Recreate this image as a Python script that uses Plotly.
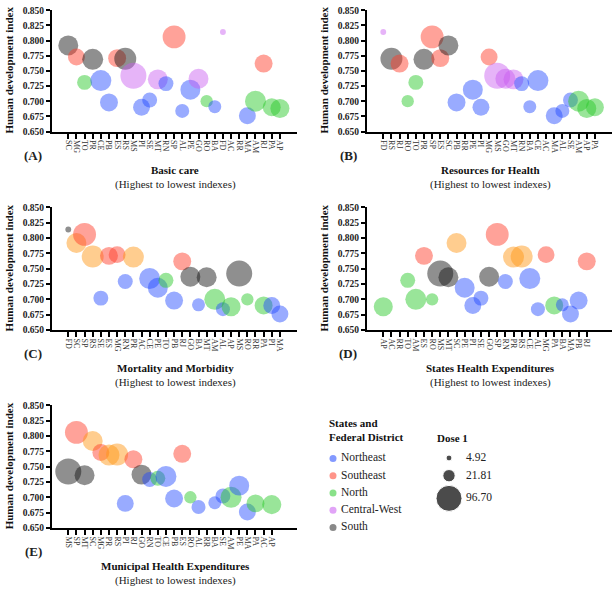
import plotly.graph_objects as go

# state -> region, HDI and first-dose coverage
STATES = ["SC", "MG", "TO", "PR", "CE", "PB", "ES", "RS", "MS", "PI", "SE", "MT", "RN",
          "SP", "AL", "PE", "GO", "RO", "BA", "FD", "MA", "AM", "RJ", "PA", "AP"]
REGION = ["South", "Southeast", "North", "South", "Northeast", "Northeast", "Southeast",
          "South", "Central-West", "Northeast", "Northeast", "Central-West", "Northeast",
          "Southeast", "Northeast", "Northeast", "Central-West", "North", "Northeast",
          "Central-West", "Northeast", "North", "Southeast", "North", "North"]
HDI = [0.792, 0.773, 0.731, 0.769, 0.734, 0.698, 0.771, 0.770, 0.742, 0.690, 0.702, 0.736,
       0.729, 0.806, 0.684, 0.719, 0.737, 0.700, 0.691, 0.814, 0.676, 0.700, 0.762, 0.690,
       0.688]
DOSE1 = [57.0, 41.0, 32.0, 63.0, 63.0, 46.0, 46.0, 69.0, 96.70, 41.0, 32.0, 57.0, 32.0,
         75.0, 28.0, 57.0, 57.0, 21.81, 24.0, 4.92, 41.0, 63.0, 46.0, 46.0, 52.0]

# x-axis order of each panel (highest to lowest index)
ORDER_A = ["SC", "MG", "TO", "PR", "CE", "PB", "ES", "RS", "MS", "PI", "SE", "MT", "RN", "SP",
           "AL", "PE", "GO", "RO", "BA", "FD", "AC", "RR", "MA", "AM", "RJ", "PA", "AP"]
ORDER_B = ["FD", "RS", "RJ", "RO", "TO", "PR", "SP", "ES", "SC", "PB", "RR", "PE", "PI", "MG",
           "MS", "GO", "MT", "RN", "BA", "CE", "AC", "MA", "AL", "SE", "AM", "AP", "PA"]
ORDER_C = ["FD", "SC", "SP", "RS", "SE", "ES", "MG", "RN", "PR", "AC", "CE", "PE", "TO", "PB",
           "RJ", "GO", "BA", "MT", "AM", "AL", "AP", "MS", "RO", "RR", "PA", "PI", "MA"]
ORDER_D = ["AP", "AC", "RR", "TO", "AM", "ES", "RO", "MS", "MT", "SC", "PE", "PI", "SE", "GO",
           "SP", "RN", "PR", "RS", "CE", "AL", "MG", "PA", "BA", "MA", "PB", "RJ"]
ORDER_E = ["MS", "SP", "MT", "SC", "MG", "PR", "RS", "PI", "RJ", "GO", "RN", "TO", "CE", "PB",
           "ES", "RO", "AL", "RR", "BA", "SE", "AM", "PE", "MA", "PA", "AC", "AP"]

REGIONS = ["Northeast", "Southeast", "North", "Central-West", "South"]
LEGEND_DOSES = [4.92, 21.81, 96.70]
HDI_TICKS = [0.650, 0.675, 0.700, 0.725, 0.750, 0.775, 0.800, 0.825, 0.850]

# panels A/B and C/D/E use different colour sets in the original
COLORS_AB = {"Northeast": "rgba(30,70,255,0.65)", "Southeast": "rgba(255,60,40,0.68)",
             "North": "rgba(40,200,40,0.68)", "Central-West": "rgba(200,90,240,0.65)",
             "South": "rgba(20,20,20,0.68)"}
COLORS_CDE = dict(COLORS_AB, **{"South": "rgba(255,150,20,0.68)",
                                "Central-West": "rgba(20,20,20,0.68)"})
LEGEND_COLORS = ["rgba(30,70,255,0.55)", "rgba(255,60,40,0.55)", "rgba(40,200,40,0.55)",
                 "rgba(200,90,240,0.55)", "rgba(20,20,20,0.5)"]

SERIF = "Liberation Serif"
W, H = 612, 591
# plotly area mode: diameter = sqrt(2 * v / sizeref)
SIZEREF = 2 * 96.70 / 26 ** 2


def px(x):
    return x / W


def py(y):
    return 1 - y / H


panels = [
    ("A", "Basic care", ORDER_A, COLORS_AB, (52, 297), (5.7, 129.5)),
    ("B", "Resources for Health", ORDER_B, COLORS_AB, (367, 612), (5.7, 129.5)),
    ("C", "Mortality and Morbidity", ORDER_C, COLORS_CDE, (52, 297), (206, 331)),
    ("D", "States Health Expenditures", ORDER_D, COLORS_CDE, (367, 612), (206, 331)),
    ("E", "Municipal Health Expenditures", ORDER_E, COLORS_CDE, (52, 297), (407, 532)),
]

lookup = {s: (r, h, d) for s, r, h, d in zip(STATES, REGION, HDI, DOSE1)}

fig = go.Figure()
annotations = []

for i, (letter, title, order, colors, (x0, x1), (y0, y1)) in enumerate(panels, start=1):
    pts = [s for s in order if s in lookup]
    fig.add_trace(go.Scatter(
        x=pts,
        y=[lookup[s][1] for s in pts],
        mode="markers",
        marker=dict(size=[lookup[s][2] for s in pts], sizemode="area", sizeref=SIZEREF,
                    color=[colors[lookup[s][0]] for s in pts], line=dict(width=0)),
        xaxis=f"x{i}", yaxis=f"y{i}", showlegend=False, cliponaxis=False,
    ))
    fig.layout[f"xaxis{i}"] = dict(
        domain=[px(x0), px(x1)], anchor=f"y{i}", type="category",
        categoryorder="array", categoryarray=order, tickvals=order, ticktext=order,
        range=[-2.0, 28.1], showline=True, linewidth=2, linecolor="black",
        ticks="outside", ticklen=5, tickwidth=1.5, tickcolor="black", tickangle=90,
        tickfont=dict(family=SERIF, size=8, color="#333"), showgrid=False, zeroline=False,
    )
    fig.layout[f"yaxis{i}"] = dict(
        domain=[py(y1), py(y0)], anchor=f"x{i}", range=[0.65, 0.851],
        tickvals=HDI_TICKS, tickformat=".3f", showline=True, linewidth=2, linecolor="black",
        ticks="outside", ticklen=4, tickwidth=1.5, tickcolor="black",
        tickfont=dict(family=SERIF, size=9.5, color="#222", weight="bold"),
        showgrid=False, zeroline=False,
    )
    annotations += [
        dict(text="Human development index", x=px(x0 - 43), y=py((y0 + y1) / 2),
             textangle=-90, font=dict(family=SERIF, size=11, color="#111", weight="bold")),
        dict(text=f"({letter})", x=px(x0 - 19), y=py(y1 + 24),
             font=dict(family=SERIF, size=13, color="#222", weight="bold")),
        dict(text=title, x=px(x0 + 123), y=py(y1 + 39),
             font=dict(family=SERIF, size=11, color="#111", weight="bold")),
        dict(text="(Highest to lowest indexes)", x=px(x0 + 123), y=py(y1 + 53.5),
             font=dict(family=SERIF, size=11, color="#222")),
    ]

# legend drawn on a hidden pixel-scaled axis
reg_y = [461.5 + 17.5 * k for k in range(len(REGIONS))]
dose_y = [461, 479, 502]
fig.add_trace(go.Scatter(
    x=[333] * len(REGIONS), y=reg_y, mode="markers", xaxis="x6", yaxis="y6",
    marker=dict(size=7, color=LEGEND_COLORS), showlegend=False,
))
fig.add_trace(go.Scatter(
    x=[341] * len(REGIONS), y=reg_y, mode="text", text=REGIONS, xaxis="x6", yaxis="y6",
    textposition="middle right", textfont=dict(family=SERIF, size=11.5, color="#222"),
    showlegend=False,
))
fig.add_trace(go.Scatter(
    x=[449] * 3, y=dose_y, mode="markers", xaxis="x6", yaxis="y6", showlegend=False,
    marker=dict(size=LEGEND_DOSES, sizemode="area", sizeref=SIZEREF, color="black"),
))
fig.add_trace(go.Scatter(
    x=[466] * 3, y=dose_y, mode="text", text=[f"{d:.2f}" for d in LEGEND_DOSES],
    textposition="middle right", textfont=dict(family=SERIF, size=11.5, color="#222"),
    xaxis="x6", yaxis="y6", showlegend=False,
))
fig.layout["xaxis6"] = dict(domain=[0, 1], range=[0, W], visible=False, fixedrange=True)
fig.layout["yaxis6"] = dict(domain=[0, 1], range=[H, 0], visible=False, fixedrange=True)

annotations += [
    dict(text="States and<br>Federal District", x=px(327), y=py(433), xanchor="left",
         align="left", font=dict(family=SERIF, size=11, color="#111", weight="bold")),
    dict(text="Dose 1", x=px(435), y=py(441), xanchor="left",
         font=dict(family=SERIF, size=11, color="#111", weight="bold")),
]
for a in annotations:
    a.setdefault("xref", "paper")
    a.setdefault("yref", "paper")
    a.setdefault("xanchor", "center")
    a.setdefault("yanchor", "middle")
    a.setdefault("showarrow", False)

fig.update_layout(
    width=W, height=H, margin=dict(l=0, r=0, t=0, b=0), hovermode=False,
    paper_bgcolor="white", plot_bgcolor="rgba(0,0,0,0)", annotations=annotations,
)
# the page body has a default 8px margin; drop it so the figure fills the window
fig.write_html("out.html", config={"displayModeBar": False},
               post_script="document.body.style.margin = '0px';")
